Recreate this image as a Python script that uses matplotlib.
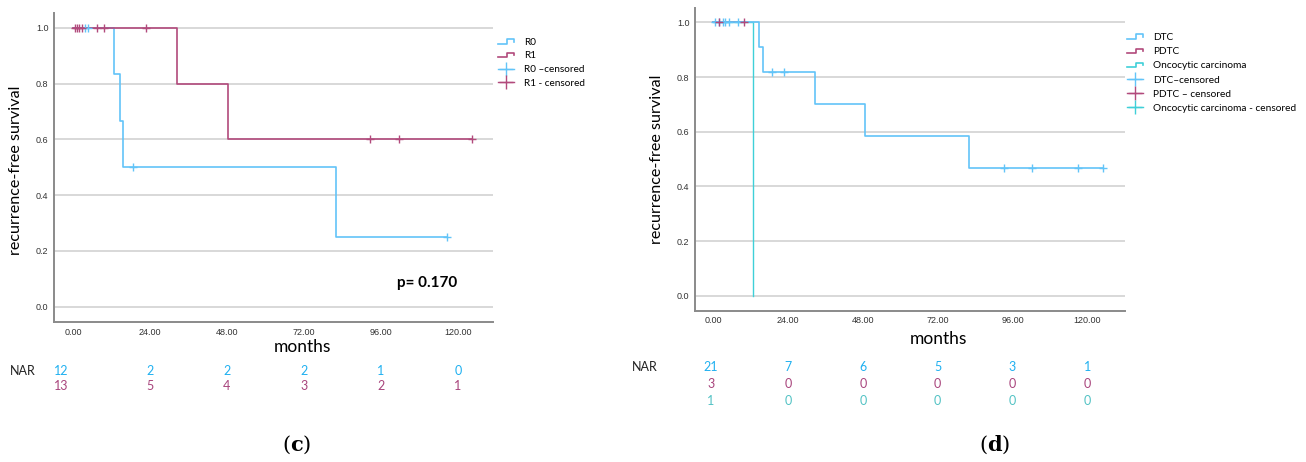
import numpy as np
import matplotlib
matplotlib.use("Agg")
import matplotlib.pyplot as plt
from matplotlib.lines import Line2D
from matplotlib.legend_handler import HandlerBase
from matplotlib.transforms import blended_transform_factory

# ---- data (c): resection status ----
r0_t = [0, 12.8, 14.6, 15.7, 81.9, 116.5]
r0_s = [1.0, 0.833, 0.667, 0.5, 0.25, 0.25]
r1_t = [0, 32.3, 48.3, 124.3]
r1_s = [1.0, 0.8, 0.6, 0.6]
r0_cens_t = [3.9, 4.7, 18.6, 116.5]
r0_cens_s = [1.0, 1.0, 0.5, 0.25]
r1_cens_t = [0.6, 1.3, 1.9, 2.7, 7.6, 9.7, 22.7, 92.7, 101.5, 124.3]
r1_cens_s = [1.0, 1.0, 1.0, 1.0, 1.0, 1.0, 1.0, 0.6, 0.6, 0.6]
nar_c = [[12, 2, 2, 2, 1, 0],
         [13, 5, 4, 3, 2, 1]]

# ---- data (d): histology ----
dtc_t = [0, 14.7, 15.9, 32.6, 48.6, 82.2, 124.9]
dtc_s = [1.0, 0.909, 0.818, 0.701, 0.584, 0.468, 0.468]
pdtc_t = [0, 10.0]
pdtc_s = [1.0, 1.0]
onc_t = [0, 12.9]
onc_s = [1.0, 0.0]
dtc_cens_t = [0.7, 1.8, 3.1, 3.9, 5.0, 7.8, 18.9, 22.7, 93.2, 102.2, 117.0, 124.9]
dtc_cens_s = [1.0] * 6 + [0.818, 0.818] + [0.468] * 4
pdtc_cens_t = [1.8, 9.8]
pdtc_cens_s = [1.0, 1.0]
nar_d = [[21, 7, 6, 5, 3, 1],
         [3, 0, 0, 0, 0, 0],
         [1, 0, 0, 0, 0, 0]]

nar_months = [0, 24, 48, 72, 96, 120]
xticks = [0, 24, 48, 72, 96, 120]
yticks = [0.0, 0.2, 0.4, 0.6, 0.8, 1.0]

BLUE = "#62c4f8"
RED = "#b24a7c"
TEAL = "#3fd0d8"
NAR_COLS = ["#1fb0f0", "#a8447c", "#52c2c4"]

W, H = 1306, 462
fig = plt.figure(figsize=(W / 100, H / 100), dpi=100)
LAB = "Lato"


class StepHandler(HandlerBase):
    def create_artists(self, legend, orig_handle, xdescent, ydescent,
                       width, height, fontsize, trans):
        x0 = -xdescent
        xs = [x0, x0 + 0.55 * width, x0 + 0.55 * width, x0 + width, x0 + width]
        ys = [0.2 * height, 0.2 * height, 0.8 * height, 0.8 * height, 0.5 * height]
        ys = [y - ydescent for y in ys]
        ln = Line2D(xs, ys, color=orig_handle.get_color(),
                    lw=orig_handle.get_linewidth())
        ln.set_transform(trans)
        return [ln]


def setup_axes(rect, xlim):
    ax = fig.add_axes(rect)
    ax.set_xlim(*xlim)
    ax.set_ylim(-0.055, 1.053)
    ax.set_xticks(xticks)
    ax.set_xticklabels([f"{v:.2f}" for v in xticks])
    ax.set_yticks(yticks)
    ax.set_yticklabels([f"{v:.1f}" for v in yticks])
    ax.tick_params(length=0, labelsize=6.5, labelcolor="#333333", pad=4)
    for lab in ax.get_xticklabels() + ax.get_yticklabels():
        lab.set_family("Liberation Sans")
    for s in ["top", "right"]:
        ax.spines[s].set_visible(False)
    for s in ["left", "bottom"]:
        ax.spines[s].set_color("#8a8a8a")
        ax.spines[s].set_linewidth(1.4)
    ax.grid(axis="y", color="#d6d6d6", lw=1.3)
    ax.set_axisbelow(True)
    ax.set_ylabel("recurrence-free survival", family=LAB, fontsize=11.6)
    ax.set_xlabel("months", family=LAB, fontsize=12.5)
    return ax


def nar_table(ax, rows, first_dx, ys, label_x):
    tr = blended_transform_factory(ax.transData, fig.transFigure)
    for r, (vals, y) in enumerate(zip(rows, ys)):
        for i, (m, v) in enumerate(zip(nar_months, vals)):
            xx = m + (first_dx if i == 0 else 0)
            fig.text(xx, 1 - y / H, str(v), transform=tr, ha="center",
                     va="center", color=NAR_COLS[r], family=LAB, fontsize=9)
    fig.text(label_x / W, 1 - ys[0] / H, "NAR", ha="left", va="center",
             family=LAB, fontsize=9, color="#222222")


# ================= panel (c) =================
axc = setup_axes([54 / W, 1 - 322 / H, (493 - 54) / W, (322 - 13) / H], (-5.9, 130.9))
axc.yaxis.set_label_coords(-0.071, 0.49)
axc.xaxis.set_label_coords(0.567, -0.055)
axc.step(r0_t, r0_s, where="post", color=BLUE, lw=1.2, zorder=3)
axc.step(r1_t, r1_s, where="post", color=RED, lw=1.2, zorder=4)
axc.plot(r0_cens_t, r0_cens_s, ls="none", marker="+", ms=6, mew=1, color=BLUE, zorder=5)
axc.plot(r1_cens_t, r1_cens_s, ls="none", marker="+", ms=6, mew=1, color=RED, zorder=5)
axc.text(0.781, 0.126, "p= 0.170", transform=axc.transAxes, family=LAB,
         fontweight="bold", fontsize=11, ha="left", va="center")

hc = [Line2D([], [], color=BLUE, lw=1.2), Line2D([], [], color=RED, lw=1.2),
      Line2D([], [], color=BLUE, lw=1, marker="+", ms=10, mew=1),
      Line2D([], [], color=RED, lw=1, marker="+", ms=10, mew=1)]
legc = fig.legend(hc, ["R0", "R1", "R0 \u2013censored", "R1 - censored"],
                  loc="upper left", bbox_to_anchor=(498 / W, 1 - 38 / H),
                  frameon=False, prop={"family": LAB, "size": 7.2},
                  handlelength=1.6, handletextpad=1.0, labelspacing=0.45,
                  borderaxespad=0, borderpad=0,
                  handler_map={hc[0]: StepHandler(), hc[1]: StepHandler()})
nar_table(axc, nar_c, -3.5, [371, 386], 10)
fig.text(297 / W, 1 - 445 / H, r"($\mathbf{c}$)", ha="center", va="center",
         family="DejaVu Serif", fontsize=15, math_fontfamily="dejavuserif")

# ================= panel (d) =================
axd = setup_axes([695 / W, 1 - 310.7 / H, (1125 - 695) / W, (310.7 - 8) / H], (-5.87, 132.1))
axd.yaxis.set_label_coords(-0.072, 0.5)
axd.xaxis.set_label_coords(0.565, -0.067)
axd.step(onc_t, onc_s, where="post", color=TEAL, lw=1.0, zorder=3)
axd.step(pdtc_t, pdtc_s, where="post", color=RED, lw=1.2, zorder=3)
axd.step(dtc_t, dtc_s, where="post", color=BLUE, lw=1.2, zorder=4)
axd.plot(dtc_cens_t, dtc_cens_s, ls="none", marker="+", ms=6, mew=1, color=BLUE, zorder=5)
axd.plot(pdtc_cens_t, pdtc_cens_s, ls="none", marker="+", ms=6, mew=1, color=RED, zorder=6)

hd = [Line2D([], [], color=BLUE, lw=1.2), Line2D([], [], color=RED, lw=1.2),
      Line2D([], [], color=TEAL, lw=1.2),
      Line2D([], [], color=BLUE, lw=1, marker="+", ms=10, mew=1),
      Line2D([], [], color=RED, lw=1, marker="+", ms=10, mew=1),
      Line2D([], [], color=TEAL, lw=1, marker="+", ms=10, mew=1)]
legd = fig.legend(hd, ["DTC", "PDTC", "Oncocytic carcinoma", "DTC\u2013censored",
                       "PDTC \u2013 censored", "Oncocytic carcinoma - censored"],
                  loc="upper left", bbox_to_anchor=(1127 / W, 1 - 33 / H),
                  frameon=False, prop={"family": LAB, "size": 7.3},
                  handlelength=1.6, handletextpad=1.0, labelspacing=0.5,
                  borderaxespad=0, borderpad=0,
                  handler_map={hd[0]: StepHandler(), hd[1]: StepHandler(),
                               hd[2]: StepHandler()})
nar_table(axd, nar_d, -0.8, [367, 384, 401], 632)
fig.text(995 / W, 1 - 445 / H, r"($\mathbf{d}$)", ha="center", va="center",
         family="DejaVu Serif", fontsize=15, math_fontfamily="dejavuserif")

fig.savefig("out.png", dpi=100)
